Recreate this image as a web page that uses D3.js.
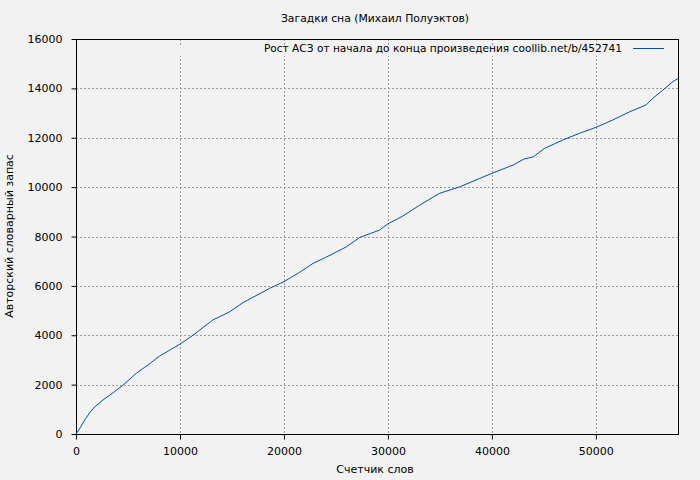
<!DOCTYPE html>
<html lang="ru">
<head>
<meta charset="utf-8">
<script src="https://cdn.jsdelivr.net/npm/d3@7/dist/d3.min.js"></script>
<style>
  body { margin: 0; background: #f2f2f2; }
  text { font-family: "DejaVu Sans", sans-serif; fill: #000; }
</style>
</head>
<body>
<div id="chart"></div>
<script>
// word counter vs. vocabulary size
const words = [0, 400, 840, 1300, 1800, 2600, 3500, 4500, 5800, 7000, 8050, 10000,
  11250, 13170, 14780, 16060, 18620, 20000, 21510, 22790, 24000, 26000, 27280,
  29200, 29940, 31440, 33050, 34970, 36890, 38820, 40000, 42080, 43040, 44000,
  45070, 46830, 48430, 50000, 51630, 53240, 54840, 55480, 56440, 57400, 57900];
const vocab = [0, 250, 570, 850, 1100, 1380, 1650, 1970, 2460, 2820, 3160, 3640,
  4000, 4620, 4950, 5320, 5900, 6170, 6550, 6910, 7150, 7580, 7960,
  8260, 8500, 8830, 9270, 9750, 10010, 10350, 10560, 10900, 11130, 11230,
  11570, 11910, 12180, 12420, 12720, 13050, 13330, 13600, 13930, 14270, 14400];
const xTicks = [0, 10000, 20000, 30000, 40000, 50000];
const yTicks = [0, 2000, 4000, 6000, 8000, 10000, 12000, 14000, 16000];
const title = "Загадки сна (Михаил Полуэктов)";
const legendLabel = "Рост АСЗ от начала до конца произведения coollib.net/b/452741";

const W = 700, H = 480;
const m = { left: 76, right: 22, top: 39, bottom: 46 };
const iw = W - m.left - m.right, ih = H - m.top - m.bottom;
const lineColor = "#004eb4";

const svg = d3.select("#chart").append("svg")
  .attr("width", W).attr("height", H)
  .style("background", "#f2f2f2");

const x = d3.scaleLinear().domain([0, 57900]).range([0, iw]);
const y = d3.scaleLinear().domain([0, 16000]).range([ih, 0]);

const g = svg.append("g").attr("transform", `translate(${m.left},${m.top})`);

// grid
g.append("g").selectAll("line").data(xTicks.slice(1)).join("line")
  .attr("x1", d => Math.round(x(d)) + 0.5).attr("x2", d => Math.round(x(d)) + 0.5)
  .attr("y1", 0).attr("y2", ih)
  .attr("stroke", "#9a9a9a").attr("stroke-dasharray", "2,2");
g.append("g").selectAll("line").data(yTicks.slice(1, -1)).join("line")
  .attr("y1", d => Math.round(y(d)) + 0.5).attr("y2", d => Math.round(y(d)) + 0.5)
  .attr("x1", 0).attr("x2", iw)
  .attr("stroke", "#9a9a9a").attr("stroke-dasharray", "2,2");

// opaque strip behind the key
g.append("rect").attr("x", 1).attr("y", 6).attr("width", iw - 2).attr("height", 11)
  .attr("fill", "#f2f2f2");

// axes
const xAxis = d3.axisBottom(x).tickValues(xTicks).tickSizeInner(5).tickSizeOuter(0)
  .tickPadding(8).tickFormat(d3.format("d"));
const yAxis = d3.axisLeft(y).tickValues(yTicks).tickSizeInner(5).tickSizeOuter(0)
  .tickPadding(9).tickFormat(d3.format("d"));

g.append("g").attr("transform", `translate(0,${ih + 0.5})`).call(xAxis)
  .call(s => s.select(".domain").remove())
  .call(s => s.selectAll("text").style("font-size", "11px").attr("font-family", null))
  .call(s => s.selectAll("line").attr("stroke", "#000"));
g.append("g").attr("transform", "translate(0.5,0)").call(yAxis)
  .call(s => s.select(".domain").remove())
  .call(s => s.selectAll("text").style("font-size", "11px").attr("font-family", null))
  .call(s => s.selectAll("line").attr("stroke", "#000"));

// border
g.append("rect").attr("x", 0.5).attr("y", 0.5).attr("width", iw).attr("height", ih)
  .attr("fill", "none").attr("stroke", "#000");

// data line
const line = d3.line().x((d, i) => x(words[i])).y((d, i) => y(vocab[i]));
g.append("path").datum(vocab).attr("d", line)
  .attr("fill", "none").attr("stroke", lineColor).attr("stroke-width", 1);

// key
g.append("text").attr("x", 546).attr("y", 13).attr("text-anchor", "end")
  .style("font-size", "10.6px").text(legendLabel);
g.append("line").attr("x1", 557).attr("x2", 588).attr("y1", 9.5).attr("y2", 9.5)
  .attr("stroke", lineColor);

// titles
svg.append("text").attr("x", 375).attr("y", 22).attr("text-anchor", "middle")
  .style("font-size", "10.8px").text(title);
svg.append("text").attr("x", 375).attr("y", 473).attr("text-anchor", "middle")
  .style("font-size", "11px").text("Счетчик слов");
svg.append("text").attr("transform", "translate(13,236) rotate(-90)")
  .attr("text-anchor", "middle").style("font-size", "11px")
  .text("Авторский словарный запас");
</script>
</body>
</html>
